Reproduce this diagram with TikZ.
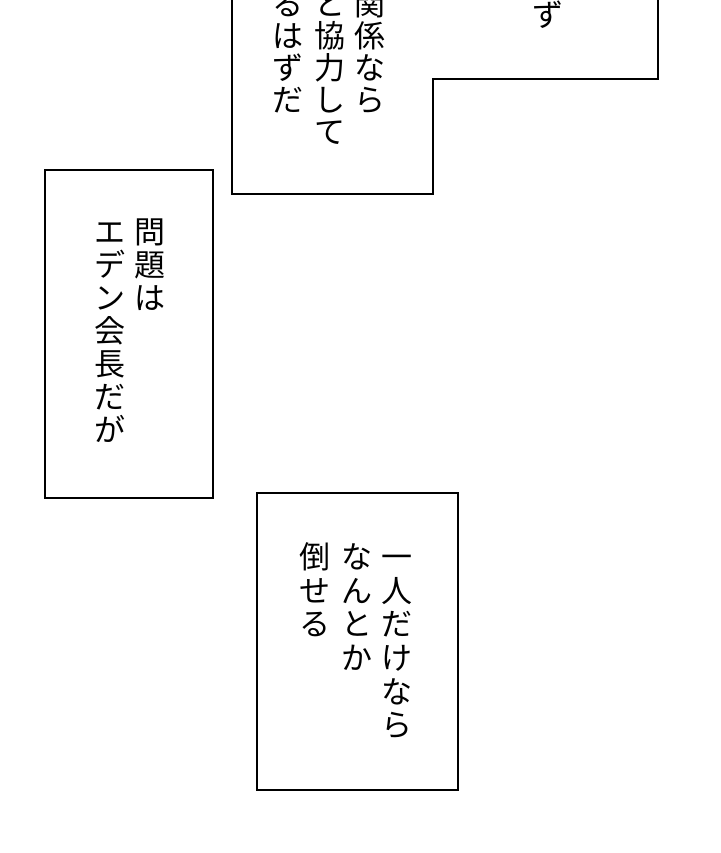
\documentclass[tikz,border=0pt]{standalone}
\usepackage{fontspec}
\newfontfamily\jp{Noto Sans CJK JP}
\makeatletter
\newcommand\vcol[2]{%
  \vbox{\offinterlineskip\@tfor\vc@ch:=#2\do{%
    \hbox to 1em{\hss\vrule height .88em depth \dimexpr#1-.88em\relax width 0pt\vc@ch\hss}}}}
\makeatother
\tikzset{
  panel/.style={draw=black, line width=1.8pt, fill=white},
  vtxt/.style={inner sep=0pt, anchor=north, font=\jp\fontsize{31}{33}\selectfont, text=black}
}
\begin{document}
\begin{tikzpicture}[x=1pt,y=-1pt]
\useasboundingbox (0,0) rectangle (720,853);
\clip (0,0) rectangle (720,853);
\fill[white] (0,0) rectangle (720,853);
% top stepped panel
\draw[panel] (232,-10) -- (232,194) -- (433,194) -- (433,79) -- (658,79) -- (658,-10);
\node[vtxt] (t1) at (370,-12) {\vcol{32pt}{関係なら}};
\node[vtxt] (t2) at (330,-12) {\vcol{32pt}{と協力して}};
\node[vtxt] (t3) at (288,-12) {\vcol{32pt}{るはずだ}};
\node[vtxt] (t4) at (548,-1) {\vcol{32pt}{ず}};
% left panel
\draw[panel] (45,170) rectangle (213,498);
\node[vtxt] (l1) at (150,216) {\vcol{33pt}{問題は}};
\node[vtxt] (l2) at (110,216) {\vcol{33pt}{エデン会長だが}};
% bottom panel
\draw[panel] (257,493) rectangle (458,790);
\node[vtxt] (b1) at (397,541) {\vcol{33.7pt}{一人だけなら}};
\node[vtxt] (b2) at (357,541) {\vcol{33.7pt}{なんとか}};
\node[vtxt] (b3) at (315,541) {\vcol{33.7pt}{倒せる}};
\end{tikzpicture}
\end{document}
